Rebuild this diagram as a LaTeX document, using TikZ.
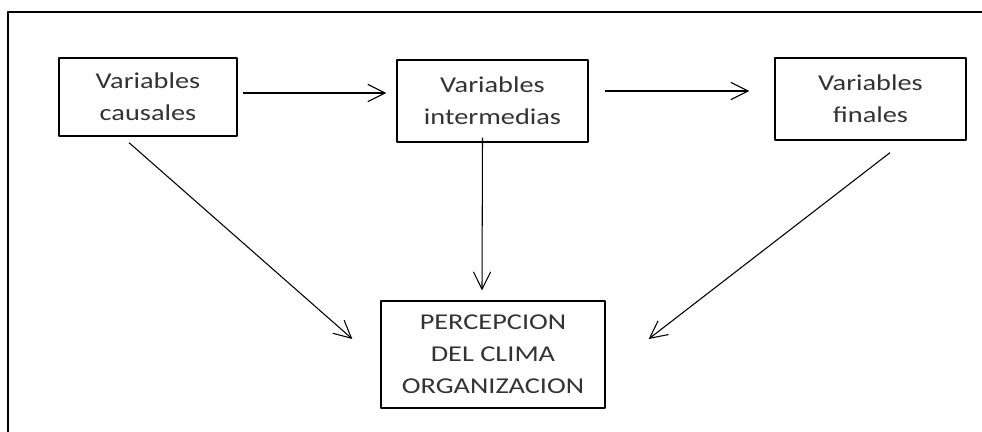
\documentclass[tikz,border=0pt]{standalone}
\usepackage{fontspec}
\setmainfont{Carlito}[FakeStretch=1.25]
\usetikzlibrary{arrows.meta,calc}

\begin{document}
\begin{tikzpicture}[x=0.75pt, y=-0.75pt, line join=round,
    caja/.style={draw, line width=1pt, inner sep=0pt, align=center,
        text=black!80, font=\fontsize{17}{24}\selectfont},
    flecha/.style={line width=0.8pt, -{Straight Barb[length=13pt, width=13pt, line width=0.8pt]}}]

        \useasboundingbox (0,0) rectangle (982,432);

        % Marco (solo arriba y a la izquierda)
        \draw[line width=1.3pt] (982,12) -- (8,12) -- (8,432);

        % Las cajas
        \node[caja, minimum width=133.5pt, minimum height=58.5pt] (causales) at (148,97) {Variables\\causales};
        \node[caja, minimum width=143.25pt, minimum height=61.5pt] (intermedias) at (492.5,101) {Variables\\intermedias};
        \node[caja, minimum width=143.25pt, minimum height=61.5pt] (finales) at (870.5,99) {Variables\\finales};
        \node[caja, minimum width=168pt, minimum height=80.25pt] (percepcion) at (493,354.5) {PERCEPCION\\DEL CLIMA\\ORGANIZACION};

        % Flechas horizontales
        \draw[flecha] ($(causales.east)+(5,-4)$) -- ($(intermedias.west)+(-10,-8)$);
        \draw[flecha] ($(intermedias.east)+(16,-10)$) -- ($(finales.west)+(-25,-8)$);

        % Flechas hacia la percepcion
        \draw[flecha] ($(causales.south)+(-19,6)$) -- ($(percepcion.west)+(-28,-15.5)$);
        \draw[flecha] ($(intermedias.south)+(-10,-5)$) -- ($(percepcion.north)+(-11,-10)$);
        \draw[flecha] ($(finales.south)+(19.5,12)$) -- ($(percepcion.east)+(43,-15.5)$);
    \end{tikzpicture}
\end{document}
